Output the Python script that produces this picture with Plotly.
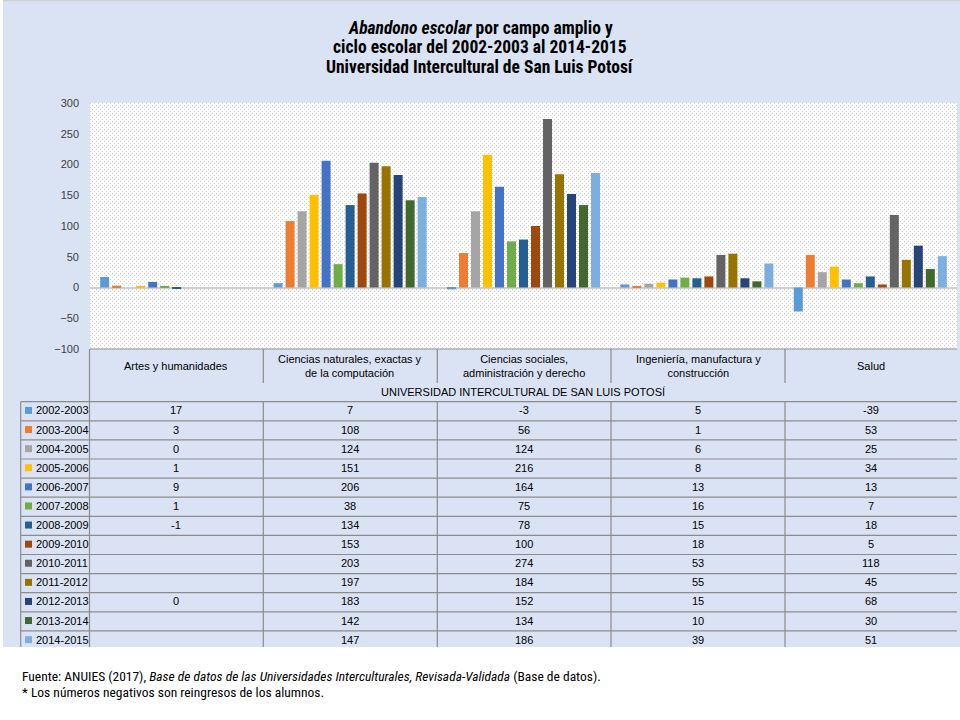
import base64
import plotly.graph_objects as go

# ---------------- data ----------------
periods = ["2002-2003", "2003-2004", "2004-2005", "2005-2006", "2006-2007", "2007-2008",
           "2008-2009", "2009-2010", "2010-2011", "2011-2012", "2012-2013", "2013-2014", "2014-2015"]
categories = ["Artes y humanidades", "Ciencias naturales, exactas y de la computación",
              "Ciencias sociales, administración y derecho", "Ingeniería, manufactura y construcción", "Salud"]
category_labels = ["Artes y humanidades", "Ciencias naturales, exactas y<br>de la computación",
                   "Ciencias sociales,<br>administración y derecho", "Ingeniería, manufactura y<br>construcción", "Salud"]
artes = [17, 3, 0, 1, 9, 1, -1, None, None, None, 0, None, None]
naturales = [7, 108, 124, 151, 206, 38, 134, 153, 203, 197, 183, 142, 147]
sociales = [-3, 56, 124, 216, 164, 75, 78, 100, 274, 184, 152, 134, 186]
ingenieria = [5, 1, 6, 8, 13, 16, 15, 18, 53, 55, 15, 10, 39]
salud = [-39, 53, 25, 34, 13, 7, 18, 5, 118, 45, 68, 30, 51]
colors = ["#5B9BD5", "#ED7D31", "#A5A5A5", "#FFC000", "#4472C4", "#70AD47", "#255E91",
          "#9E480E", "#636363", "#997300", "#264478", "#43682B", "#7CAFDD"]
y_ticks = [-100, -50, 0, 50, 100, 150, 200, 250, 300]

columns = [artes, naturales, sociales, ingenieria, salud]

W, H = 960, 720
def px(x):
    return x / W
def py(y):
    return 1 - y / H

PLOT_L, PLOT_R, PLOT_T, PLOT_B = 90, 957, 103, 349
FONT_T = "Roboto Condensed, Liberation Sans Narrow, Arial Narrow, DejaVu Sans Condensed, sans-serif"
FONT_B = "Liberation Sans, Arial, sans-serif"
GRID = "#8C8C8C"

fig = go.Figure()
for i, p in enumerate(periods):
    fig.add_trace(go.Bar(
        x=categories, y=[col[i] for col in columns], name=p,
        marker=dict(color=colors[i], line=dict(width=0)),
    ))

shapes = []
annotations = []

# panel background & white surroundings
shapes.append(dict(type="rect", xref="paper", yref="paper", x0=0, x1=1, y0=py(720), y1=py(647),
                   fillcolor="white", line=dict(width=0), layer="below"))
shapes.append(dict(type="rect", xref="paper", yref="paper", x0=0, x1=px(3), y0=py(647), y1=1,
                   fillcolor="white", line=dict(width=0), layer="below"))
shapes.append(dict(type="line", xref="paper", yref="paper", x0=px(3), x1=1, y0=py(0.5), y1=py(0.5),
                   line=dict(color="#D0D0D0", width=1.5), layer="below"))

# dotted plot-area background
svg = ("<svg xmlns='http://www.w3.org/2000/svg' width='867' height='246'><defs>"
       "<pattern id='p' width='4' height='4' patternUnits='userSpaceOnUse'>"
       "<rect width='4' height='4' fill='white'/>"
       "<rect x='0' y='0' width='1' height='1' fill='#D2D2D2'/>"
       "<rect x='2' y='2' width='1' height='1' fill='#D2D2D2'/>"
       "</pattern></defs><rect width='100%' height='100%' fill='url(#p)'/></svg>")
img_src = "data:image/svg+xml;base64," + base64.b64encode(svg.encode()).decode()

# ---------------- data table ----------------
col_x = [20.7, 89.5, 263.3, 437.3, 611.0, 785.0, 957.0]
row_top = 401.7
row_h = 19.1
table_bottom = 647

# header top line
shapes.append(dict(type="line", xref="paper", yref="paper", x0=px(PLOT_L), x1=px(957),
                   y0=py(PLOT_B), y1=py(PLOT_B), line=dict(color=GRID, width=1.2)))
# data row lines
for r in range(len(periods)):
    yy = row_top + r * row_h
    shapes.append(dict(type="line", xref="paper", yref="paper", x0=px(col_x[0]), x1=px(957),
                       y0=py(yy), y1=py(yy), line=dict(color=GRID, width=1.2)))
# vertical lines
shapes.append(dict(type="line", xref="paper", yref="paper", x0=px(col_x[0]), x1=px(col_x[0]),
                   y0=py(row_top), y1=py(table_bottom), line=dict(color=GRID, width=1.2)))
shapes.append(dict(type="line", xref="paper", yref="paper", x0=px(col_x[1]), x1=px(col_x[1]),
                   y0=py(PLOT_B), y1=py(table_bottom), line=dict(color=GRID, width=1.2)))
for cx in col_x[2:6]:
    shapes.append(dict(type="line", xref="paper", yref="paper", x0=px(cx), x1=px(cx),
                       y0=py(PLOT_B), y1=py(383), line=dict(color=GRID, width=1.2)))
    shapes.append(dict(type="line", xref="paper", yref="paper", x0=px(cx), x1=px(cx),
                       y0=py(row_top), y1=py(table_bottom), line=dict(color=GRID, width=1.2)))

TXT = dict(family=FONT_B, size=11, color="#000000")
# category headers
for j, lab in enumerate(category_labels):
    cxm = (col_x[j + 1] + col_x[j + 2]) / 2
    annotations.append(dict(xref="paper", yref="paper", x=px(cxm), y=py(366), text=lab,
                            showarrow=False, xanchor="center", yanchor="middle", align="center",
                            font=TXT))
annotations.append(dict(xref="paper", yref="paper", x=px(523), y=py(392),
                        text="UNIVERSIDAD INTERCULTURAL DE SAN LUIS POTOSÍ",
                        showarrow=False, xanchor="center", yanchor="middle", font=TXT))
# rows
for r, p in enumerate(periods):
    yc = row_top + r * row_h + row_h / 2 - 0.8
    shapes.append(dict(type="rect", xref="paper", yref="paper", x0=px(25), x1=px(32),
                       y0=py(yc + 3.5), y1=py(yc - 3.5), fillcolor=colors[r], line=dict(width=0)))
    annotations.append(dict(xref="paper", yref="paper", x=px(34), y=py(yc), text=p,
                            showarrow=False, xanchor="left", yanchor="middle", font=TXT))
    for j, col in enumerate(columns):
        v = col[r]
        if v is None:
            continue
        cxm = (col_x[j + 1] + col_x[j + 2]) / 2
        annotations.append(dict(xref="paper", yref="paper", x=px(cxm), y=py(yc), text=str(v),
                                showarrow=False, xanchor="center", yanchor="middle", font=TXT))

# ---------------- title ----------------
title_lines = ["<b><i>Abandono escolar</i> por campo amplio y</b>",
               "<b>ciclo escolar del 2002-2003 al 2014-2015</b>",
               "<b>Universidad Intercultural de San Luis Potosí</b>"]
for k, t in enumerate(title_lines):
    annotations.append(dict(xref="paper", yref="paper", x=px(480), y=py(28 + k * 19.5), text=t,
                            showarrow=False, xanchor="center", yanchor="middle",
                            font=dict(family=FONT_T, size=17.5, color="#000000")))

# ---------------- footnote ----------------
foot = ["Fuente: ANUIES (2017), <i>Base de datos de las Universidades Interculturales, Revisada-Validada</i> (Base de datos).",
        "* Los números negativos son reingresos de los alumnos."]
for k, t in enumerate(foot):
    annotations.append(dict(xref="paper", yref="paper", x=px(20), y=py(676 + k * 15.5), text=t,
                            showarrow=False, xanchor="left", yanchor="middle",
                            font=dict(family=FONT_T, size=13.5, color="#000000")))

fig.update_layout(
    width=W, height=H, autosize=False,
    margin=dict(l=0, r=0, t=0, b=0),
    paper_bgcolor="#DAE3F3",
    plot_bgcolor="rgba(0,0,0,0)",
    barmode="group", bargap=0.1, bargroupgap=0.25,
    showlegend=False,
    xaxis=dict(domain=[px(PLOT_L), px(PLOT_R)], showticklabels=False, showgrid=False,
               zeroline=False, showline=False, ticks="", automargin=False),
    yaxis=dict(domain=[py(PLOT_B), py(PLOT_T)], range=[-100, 300], tickvals=y_ticks,
               showgrid=False, zeroline=True, zerolinecolor="#D0D0D0", zerolinewidth=1.5,
               showline=False, ticks="", ticklabelstandoff=10, automargin=False,
               tickfont=dict(family=FONT_B, size=11, color="#404040")),
    shapes=shapes,
    annotations=annotations,
    images=[dict(source=img_src, xref="paper", yref="paper", x=px(PLOT_L), y=py(PLOT_T),
                 sizex=px(PLOT_R) - px(PLOT_L), sizey=py(PLOT_T) - py(PLOT_B),
                 xanchor="left", yanchor="top", sizing="stretch", layer="below")],
)

fig.write_html("out.html", config={"displayModeBar": False},
               post_script="document.body.style.margin='0';")
